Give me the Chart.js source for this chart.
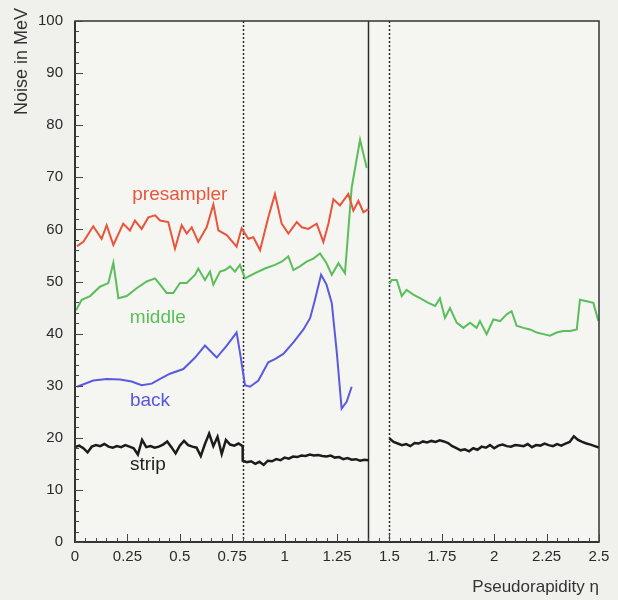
<!DOCTYPE html>
<html>
<head>
<meta charset="utf-8">
<script src="https://cdn.jsdelivr.net/npm/chart.js@4.4.1/dist/chart.umd.min.js"></script>
<style>
  html, body { margin: 0; padding: 0; background: #f0f1ec; }
  #wrap { width: 618px; height: 600px; }
</style>
</head>
<body>
<div id="wrap"><canvas id="c" width="618" height="600"></canvas></div>
<script>
// presampler
const preEta = [0.01, 0.04, 0.087, 0.127, 0.151, 0.183, 0.23, 0.262, 0.286, 0.318, 0.35, 0.382, 0.406, 0.445, 0.477, 0.509, 0.533, 0.557, 0.588, 0.628, 0.66, 0.684, 0.724, 0.771, 0.795, 0.827, 0.851, 0.883, 0.922, 0.954, 0.986, 1.018, 1.058, 1.082, 1.113, 1.153, 1.185, 1.209, 1.233, 1.264, 1.304, 1.328, 1.352, 1.376, 1.40]
const preNoise = [56.8, 57.6, 60.6, 58.2, 60.8, 57.0, 61.1, 59.8, 61.7, 60.1, 62.3, 62.7, 61.7, 61.4, 56.3, 60.8, 59.2, 60.4, 57.6, 60.4, 64.8, 59.8, 58.9, 56.7, 60.2, 58.2, 58.5, 56.0, 62.3, 66.8, 61.1, 59.2, 61.4, 60.4, 60.1, 61.1, 57.6, 61.1, 65.8, 64.6, 66.8, 63.6, 65.5, 63.3, 63.9]

// middle (two parts, gap 1.4 - 1.5)
const midEta = [0.005, 0.032, 0.072, 0.119, 0.159, 0.183, 0.207, 0.247, 0.294, 0.342, 0.382, 0.406, 0.437, 0.469, 0.501, 0.533, 0.573, 0.588, 0.62, 0.644, 0.66, 0.692, 0.716, 0.74, 0.763, 0.787, 0.811, 0.859, 0.906, 0.954, 0.986, 1.018, 1.042, 1.073, 1.105, 1.137, 1.169, 1.2, 1.225, 1.257, 1.288, 1.32, 1.36, 1.392]
const midNoise = [44.5, 46.5, 47.2, 49.0, 49.7, 53.6, 46.8, 47.2, 48.7, 50.0, 50.6, 49.4, 47.8, 47.8, 49.7, 49.7, 51.3, 52.5, 50.3, 51.9, 49.4, 51.9, 52.2, 52.9, 51.9, 53.2, 50.6, 51.6, 52.5, 53.2, 53.8, 54.8, 52.2, 52.9, 53.8, 54.4, 55.4, 53.5, 51.3, 53.5, 51.6, 68.0, 77.2, 71.8]
const midEta2 = [1.50, 1.511, 1.535, 1.559, 1.582, 1.614, 1.646, 1.686, 1.718, 1.741, 1.765, 1.789, 1.821, 1.853, 1.885, 1.916, 1.932, 1.964, 1.996, 2.028, 2.06, 2.083, 2.107, 2.139, 2.171, 2.203, 2.235, 2.266, 2.298, 2.33, 2.362, 2.394, 2.409, 2.441, 2.473, 2.497]
const midNoise2 = [49.5, 50.3, 50.3, 47.2, 48.4, 47.5, 46.8, 45.9, 45.3, 46.8, 43.0, 44.9, 42.1, 41.1, 42.1, 41.1, 42.4, 39.9, 42.7, 42.4, 43.7, 44.3, 41.5, 41.1, 40.8, 40.2, 39.9, 39.6, 40.2, 40.5, 40.5, 40.8, 46.5, 46.2, 45.9, 42.4]

// back
const backEta = [0.01, 0.087, 0.151, 0.215, 0.27, 0.318, 0.366, 0.406, 0.453, 0.517, 0.573, 0.62, 0.676, 0.724, 0.771, 0.787, 0.811, 0.835, 0.875, 0.922, 0.954, 0.994, 1.042, 1.09, 1.122, 1.145, 1.174, 1.2, 1.225, 1.249, 1.272, 1.296, 1.32]
const backNoise = [29.8, 31.0, 31.3, 31.2, 30.8, 30.1, 30.4, 31.3, 32.3, 33.2, 35.4, 37.7, 35.4, 37.7, 40.2, 36.4, 30.1, 29.8, 31.0, 34.5, 35.1, 36.1, 38.3, 40.8, 43.0, 46.5, 51.3, 49.4, 45.9, 36.4, 25.6, 26.9, 29.8]

// strip, sampled every 0.02 in eta
const stripStep = 0.02
const stripStart = [0, 0.8, 1.5]
const stripNoise1 = [18.2, 18.5, 18.0, 17.2, 18.3, 18.6, 18.4, 18.8, 18.3, 18.1, 18.4, 18.2, 18.6, 18.3, 18.0, 16.8, 19.6, 18.2, 18.4, 18.1, 18.3, 18.7, 19.3, 18.2, 17.0, 18.5, 19.4, 18.6, 18.3, 18.1, 16.5, 18.8, 20.8, 18.4, 20.2, 16.9, 19.6, 18.7, 18.5, 18.9, 18.4]
const stripNoise2 = [15.6, 15.3, 15.5, 15.0, 15.4, 14.8, 15.6, 15.5, 15.9, 15.7, 16.2, 16.0, 16.4, 16.3, 16.6, 16.5, 16.8, 16.6, 16.7, 16.5, 16.4, 16.6, 16.2, 16.3, 15.9, 16.1, 15.8, 15.9, 15.6, 15.8, 15.7]
const stripNoise3 = [19.9, 19.2, 18.9, 18.6, 18.8, 18.4, 19.0, 18.9, 19.3, 19.1, 19.4, 19.2, 19.5, 19.3, 19.0, 18.4, 18.0, 17.6, 17.8, 17.4, 18.0, 17.7, 18.3, 18.1, 18.6, 18.0, 18.5, 18.7, 18.4, 18.3, 18.6, 18.5, 18.4, 18.8, 18.2, 18.6, 18.5, 18.9, 18.6, 18.4, 18.8, 18.5, 18.9, 19.2, 20.3, 19.6, 19.2, 18.9, 18.7, 18.4, 18.1]

// detector boundaries and curve labels
const boundaries = [0.8, 1.4, 1.5]
const boundaryDash = [[2, 2], [], [2, 2]]
const labelText = ['presampler', 'middle', 'back', 'strip']
const labelEta = [0.5, 0.395, 0.358, 0.348]
const labelNoise = [66.6, 43.0, 27.2, 14.9]
const labelColor = ['#e8553b', '#5cbd5c', '#5656dc', '#1e1e1e']

const pts = (xs, ys) => xs.map((x, i) => ({ x: x, y: ys[i] }))
const stripPts = (start, ys) => ys.map((y, i) => ({ x: +(start + i * stripStep).toFixed(3), y: y }))
const gap = (x) => [{ x: x, y: null }]

const FONT = '"Liberation Sans", Arial, sans-serif'

const decor = {
  id: 'decor',
  beforeDraw(chart) {
    const { ctx, chartArea: a } = chart
    ctx.save()
    ctx.fillStyle = '#f0f1ec'
    ctx.fillRect(0, 0, chart.width, chart.height)
    ctx.fillStyle = '#f5f6f1'
    ctx.fillRect(a.left, a.top, a.right - a.left, a.bottom - a.top)
    ctx.restore()
  },
  beforeDatasetsDraw(chart) {
    const { ctx, chartArea: a, scales: { x } } = chart
    ctx.save()
    boundaries.forEach((b, i) => {
      const px = Math.round(x.getPixelForValue(b)) + 0.5
      ctx.strokeStyle = '#2c2c2c'
      ctx.lineWidth = 1.5
      ctx.setLineDash(boundaryDash[i])
      ctx.beginPath()
      ctx.moveTo(px, a.top)
      ctx.lineTo(px, a.bottom)
      ctx.stroke()
    })
    ctx.restore()
  },
  afterDatasetsDraw(chart) {
    const { ctx, chartArea: a, scales: { x, y } } = chart
    ctx.save()
    // frame
    ctx.strokeStyle = '#333'
    ctx.lineWidth = 1.5
    ctx.strokeRect(a.left, a.top, a.right - a.left, a.bottom - a.top)
    ctx.lineWidth = 2
    ctx.beginPath()
    ctx.moveTo(a.left, a.top); ctx.lineTo(a.left, a.bottom); ctx.lineTo(a.right, a.bottom)
    ctx.stroke()

    // inner tick marks
    ctx.lineWidth = 1
    ctx.strokeStyle = '#444'
    ctx.beginPath()
    for (let v = 0; v <= 100; v += 2) {
      const py = Math.round(y.getPixelForValue(v)) + 0.5
      const len = v % 10 === 0 ? 8 : 4
      ctx.moveTo(a.left, py); ctx.lineTo(a.left + len, py)
    }
    for (let k = 0; k <= 50; k++) {
      const px = Math.round(x.getPixelForValue(k * 0.05)) + 0.5
      const len = k % 5 === 0 ? 8 : 4
      ctx.moveTo(px, a.bottom); ctx.lineTo(px, a.bottom - len)
    }
    ctx.stroke()

    // curve labels
    ctx.font = '19px ' + FONT
    ctx.textAlign = 'center'
    ctx.textBaseline = 'middle'
    labelText.forEach((t, i) => {
      ctx.fillStyle = labelColor[i]
      ctx.fillText(t, x.getPixelForValue(labelEta[i]), y.getPixelForValue(labelNoise[i]))
    })

    // axis titles
    ctx.fillStyle = '#333'
    ctx.font = '17px ' + FONT
    ctx.textAlign = 'right'
    ctx.textBaseline = 'alphabetic'
    ctx.fillText('Pseudorapidity η', 599, 592)
    ctx.translate(27, 8)
    ctx.rotate(-Math.PI / 2)
    ctx.font = '18px ' + FONT
    ctx.fillText('Noise in MeV', 0, 0)
    ctx.restore()
  }
}

const line = (data, color, w) => ({
  data: data,
  borderColor: color,
  borderWidth: w,
  pointRadius: 0,
  tension: 0,
  spanGaps: false
})

new Chart(document.getElementById('c'), {
  type: 'line',
  data: {
    datasets: [
      line(pts(preEta, preNoise), '#e8553b', 2),
      line(pts(midEta, midNoise).concat(gap(1.45), pts(midEta2, midNoise2)), '#5cbd5c', 2),
      line(pts(backEta, backNoise), '#5a5ae0', 2),
      line(stripPts(stripStart[0], stripNoise1).concat(stripPts(stripStart[1], stripNoise2), gap(1.45), stripPts(stripStart[2], stripNoise3)), '#1c1c1c', 2.5)
    ]
  },
  options: {
    responsive: false,
    animation: false,
    layout: { padding: { top: 15, right: 19, left: 0, bottom: 0 } },
    plugins: { legend: { display: false }, tooltip: { enabled: false } },
    scales: {
      x: {
        type: 'linear', min: 0, max: 2.5,
        grid: { display: false, drawTicks: false },
        border: { display: false },
        ticks: {
          stepSize: 0.25, padding: 6, color: '#2a2a2a',
          font: { family: FONT, size: 15 },
          callback: (v) => String(+(+v).toFixed(2))
        },
        afterFit: (s) => { s.height = 58 }
      },
      y: {
        min: 0, max: 100,
        grid: { display: false, drawTicks: false },
        border: { display: false },
        ticks: {
          stepSize: 10, padding: 12, color: '#2a2a2a',
          font: { family: FONT, size: 15 }
        },
        afterFit: (s) => { s.width = 75 }
      }
    }
  },
  plugins: [decor]
})
</script>
</body>
</html>
